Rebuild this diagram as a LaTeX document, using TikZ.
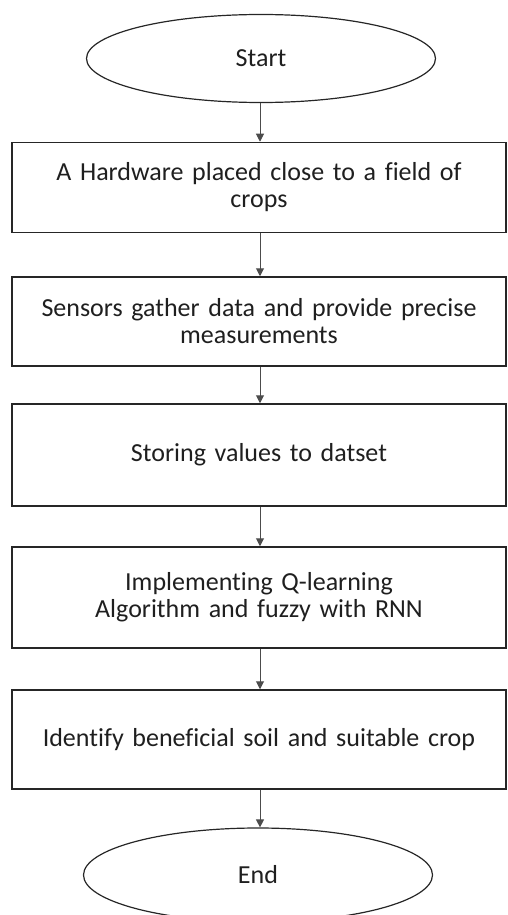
\documentclass[tikz,border=0pt]{standalone}
\usepackage{fontspec}
\setmainfont{Carlito}[Ligatures=NoCommon]
\usetikzlibrary{shapes.geometric,arrows.meta}
\tikzset{
    stepbox/.style={draw=black!85, line width=1.5pt, minimum width=494pt, text width=480pt,
        align=center, font=\fontsize{26}{27}\selectfont, text=black!88},
    terminal/.style={ellipse, draw=black!85, line width=1.2pt, minimum width=349pt,
        minimum height=88pt, font=\fontsize{26}{27}\selectfont, text=black!88},
    flow/.style={->, draw=black!70, line width=1pt}
}
\begin{document}
\begin{tikzpicture}[>={Triangle[width=8pt,length=8pt]}, x=1pt, y=-1pt]
\useasboundingbox (0,0) rectangle (507,915);

\node[terminal] (start) at (261,58.5) {Start};
\node[stepbox, minimum height=90pt] (hw) at (259,187.5) {A Hardware placed close to a field of\\crops};
\node[stepbox, minimum height=89pt] (sense) at (259,321.5) {Sensors gather data and provide precise\\measurements};
\node[stepbox, minimum height=102pt] (store) at (259,455) {Storing values to datset};
\node[stepbox, minimum height=101pt] (qlearn) at (259,597.5) {Implementing Q-learning\\Algorithm and fuzzy with RNN};
\node[stepbox, minimum height=99pt] (ident) at (259,739.5) {Identify beneficial soil and suitable crop};
\node[terminal, minimum height=94pt] (stop) at (258,875) {End};

\draw[flow] (start.south -| 260,0) -- (hw.north -| 260,0);
\draw[flow] (hw.south -| 260,0) -- (sense.north -| 260,0);
\draw[flow] (sense.south -| 260,0) -- (store.north -| 260,0);
\draw[flow] (store.south -| 260,0) -- (qlearn.north -| 260,0);
\draw[flow] (qlearn.south -| 260,0) -- (ident.north -| 260,0);
\draw[flow] (ident.south -| 260,0) -- (stop.north -| 260,0);
\end{tikzpicture}
\end{document}
